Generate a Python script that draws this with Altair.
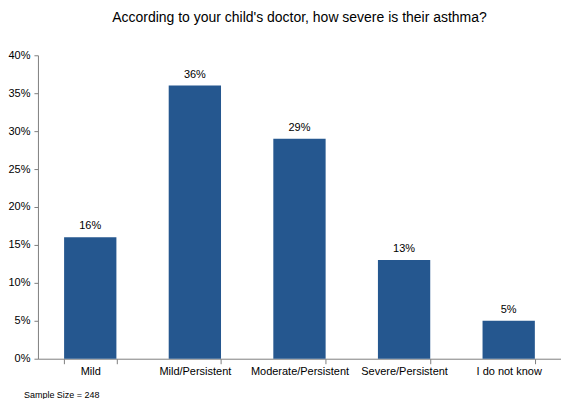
import altair as alt
import pandas as pd

categories = ["Mild", "Mild/Persistent", "Moderate/Persistent", "Severe/Persistent", "I do not know"]
values = [0.16, 0.36, 0.29, 0.13, 0.05]
title_text = "According to your child's doctor, how severe is their asthma?"
note_text = "Sample Size = 248"
y_ticks = [0, 0.05, 0.1, 0.15, 0.2, 0.25, 0.3, 0.35, 0.4]

df = pd.DataFrame({"cat": categories, "val": values})

FONT = "Liberation Sans"
W, H = 524, 304

x = alt.X("cat:N", sort=categories, title=None,
          scale=alt.Scale(paddingInner=0.5, paddingOuter=0.25),
          axis=alt.Axis(labelAngle=0, tickBand="extent", labelFont=FONT, labelFontSize=11,
                        labelColor="#000000", domainColor="#808080", tickColor="#808080",
                        tickSize=5, labelPadding=2, grid=False))
y = alt.Y("val:Q", title=None,
          scale=alt.Scale(domain=[0, 0.4], nice=False),
          axis=alt.Axis(format=".0%", values=y_ticks,
                        labelOverlap=False,
                        labelFont=FONT, labelFontSize=11, labelColor="#000000",
                        domainColor="#808080", tickColor="#808080", tickSize=4,
                        labelPadding=4, grid=False))

bars = alt.Chart(df).mark_bar(color="#25578F").encode(x=x, y=y)
labels = alt.Chart(df).mark_text(font=FONT, fontSize=11, dy=-6, baseline="bottom", color="#000000").encode(
    x=x, y=y, text=alt.Text("val:Q", format=".0%"))
note = alt.Chart(pd.DataFrame({"t": [note_text]})).mark_text(
    font=FONT, fontSize=9, align="left", baseline="middle", color="#000000").encode(
    x=alt.value(-14), y=alt.value(36 + H), text="t:N")

chart = alt.layer(bars, labels, note).properties(
    width=W, height=H,
    title=alt.TitleParams(title_text, font=FONT, fontSize=14, fontWeight="normal", color="#000000",
                          anchor="middle", offset=24),
    padding={"left": 30, "top": 47, "right": 0, "bottom": 40},
    autosize=alt.AutoSizeParams(type="none"),
).configure_view(stroke=None)

chart.save("out.html", embed_options={"renderer": "svg", "actions": False})
